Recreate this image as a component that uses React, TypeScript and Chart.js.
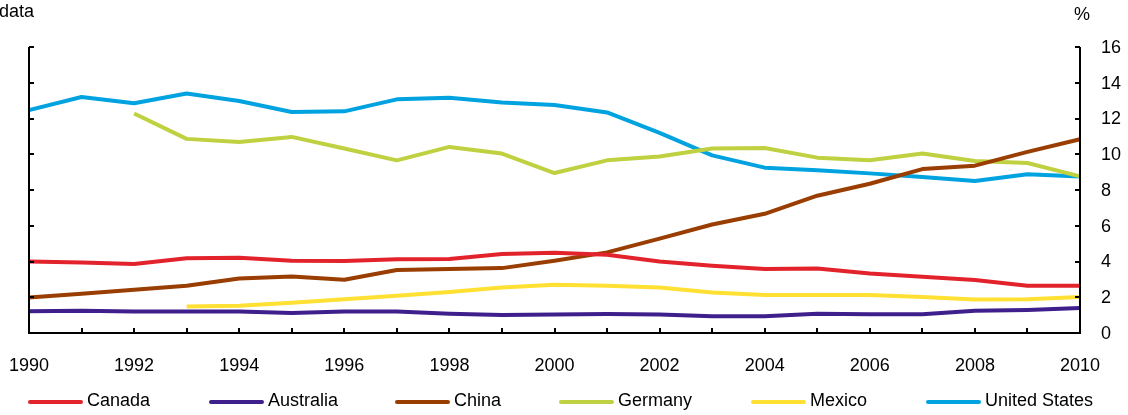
import React, { useEffect, useRef } from "react";
import { Chart, registerables } from "chart.js";

Chart.register(...registerables);

const years = [1990, 1991, 1992, 1993, 1994, 1995, 1996, 1997, 1998, 1999, 2000, 2001, 2002, 2003, 2004, 2005, 2006, 2007, 2008, 2009, 2010];

const canada = [4.0, 3.95, 3.86, 4.18, 4.21, 4.04, 4.03, 4.12, 4.14, 4.42, 4.49, 4.38, 4.0, 3.76, 3.58, 3.61, 3.33, 3.15, 2.96, 2.64, 2.64];
const australia = [1.22, 1.25, 1.2, 1.2, 1.2, 1.12, 1.2, 1.2, 1.08, 1.01, 1.03, 1.06, 1.03, 0.94, 0.94, 1.08, 1.05, 1.05, 1.24, 1.29, 1.4];
const china = [1.98, 2.2, 2.42, 2.64, 3.05, 3.16, 2.98, 3.52, 3.58, 3.63, 4.04, 4.51, 5.28, 6.07, 6.67, 7.68, 8.35, 9.17, 9.36, 10.13, 10.84];
const germany = [null, null, 12.28, 10.86, 10.69, 10.97, 10.32, 9.66, 10.41, 10.04, 8.95, 9.66, 9.87, 10.32, 10.35, 9.81, 9.66, 10.04, 9.62, 9.51, 8.76];
const mexico = [null, null, null, 1.48, 1.53, 1.69, 1.89, 2.08, 2.3, 2.55, 2.7, 2.64, 2.55, 2.27, 2.13, 2.13, 2.13, 2.02, 1.87, 1.89, 2.02];
const unitedStates = [12.47, 13.2, 12.85, 13.4, 12.98, 12.36, 12.4, 13.07, 13.16, 12.9, 12.75, 12.34, 11.2, 9.94, 9.25, 9.1, 8.93, 8.73, 8.5, 8.88, 8.75];

const seriesNames = ["Canada", "Australia", "China", "Germany", "Mexico", "United States"];
const seriesColors = ["#E3232C", "#3F1F8C", "#993D00", "#BFD140", "#FFE033", "#00A3E0"];
const seriesValues = [canada, australia, china, germany, mexico, unitedStates];

const yTickValues = [0, 2, 4, 6, 8, 10, 12, 14, 16];
const xLabelValues = [1990, 1992, 1994, 1996, 1998, 2000, 2002, 2004, 2006, 2008, 2010];

const legendX = [29, 210, 396, 560, 752, 927];

const FONT = '18px "Liberation Sans", Arial, sans-serif';

const axesPlugin = {
  id: "customAxes",
  afterDraw(chart: any) {
    const ctx = chart.ctx;
    const xs = chart.scales.x;
    const ys = chart.scales.y;
    const left = xs.getPixelForValue(1990);
    const right = xs.getPixelForValue(2010);
    const top = ys.getPixelForValue(16);
    const bottom = ys.getPixelForValue(0);
    ctx.save();
    ctx.strokeStyle = "#000";
    ctx.fillStyle = "#000";
    ctx.lineWidth = 2;
    ctx.lineCap = "butt";
    // axis lines
    ctx.beginPath();
    ctx.moveTo(left, top);
    ctx.lineTo(left, bottom);
    ctx.lineTo(right, bottom);
    ctx.lineTo(right, top);
    ctx.stroke();
    // y ticks
    for (const v of yTickValues) {
      const y = Math.round(ys.getPixelForValue(v));
      ctx.beginPath();
      ctx.moveTo(left, y);
      ctx.lineTo(left + 5, y);
      ctx.moveTo(right, y);
      ctx.lineTo(right - 5, y);
      ctx.stroke();
    }
    // x ticks
    for (const yr of years) {
      const x = Math.round(xs.getPixelForValue(yr));
      ctx.beginPath();
      ctx.moveTo(x, bottom);
      ctx.lineTo(x, bottom - 5);
      ctx.stroke();
    }
    ctx.font = FONT;
    // right tick labels
    ctx.textAlign = "left";
    ctx.textBaseline = "middle";
    for (const v of yTickValues) {
      ctx.fillText(String(v), right + 21, ys.getPixelForValue(v) + 1);
    }
    // x labels
    ctx.textAlign = "center";
    ctx.textBaseline = "middle";
    for (const yr of xLabelValues) {
      ctx.fillText(String(yr), xs.getPixelForValue(yr), 366);
    }
    // unit labels
    ctx.textAlign = "left";
    ctx.fillText("data", -1, 12);
    ctx.fillText("%", 1074, 15);
    // legend
    for (let i = 0; i < seriesNames.length; i++) {
      const x0 = legendX[i];
      ctx.strokeStyle = seriesColors[i];
      ctx.lineWidth = 4;
      ctx.lineCap = "round";
      ctx.beginPath();
      ctx.moveTo(x0 + 1, 402);
      ctx.lineTo(x0 + 52, 402);
      ctx.stroke();
      ctx.fillStyle = "#000";
      ctx.textAlign = "left";
      ctx.textBaseline = "middle";
      ctx.fillText(seriesNames[i], x0 + 58, 401);
    }
    ctx.restore();
  },
};

export default function App() {
  const canvasRef = useRef<HTMLCanvasElement | null>(null);

  useEffect(() => {
    if (!canvasRef.current) return;
    const datasets = seriesNames.map((name, i) => ({
      label: name,
      data: years.map((yr, j) => ({ x: yr, y: seriesValues[i][j] })),
      borderColor: seriesColors[i],
      backgroundColor: seriesColors[i],
      borderWidth: 4,
      pointRadius: 0,
      tension: 0,
      spanGaps: false,
      fill: false,
      borderJoinStyle: "round" as const,
      clip: 4,
    }));
    const chart = new Chart(canvasRef.current, {
      type: "line",
      data: { datasets },
      options: {
        animation: false,
        responsive: false,
        maintainAspectRatio: false,
        layout: { padding: { left: 29, right: 48, top: 47, bottom: 82 } },
        plugins: { legend: { display: false }, tooltip: { enabled: false } },
        scales: {
          x: { type: "linear", min: 1990, max: 2010, display: false },
          y: { type: "linear", min: 0, max: 16, display: false },
        },
      },
      plugins: [axesPlugin],
    });
    return () => chart.destroy();
  }, []);

  return (
    <div style={{ position: "absolute", left: 0, top: 0, width: 1128, height: 415, background: "#fff" }}>
      <canvas ref={canvasRef} width={1128} height={415} style={{ display: "block" }} />
    </div>
  );
}
